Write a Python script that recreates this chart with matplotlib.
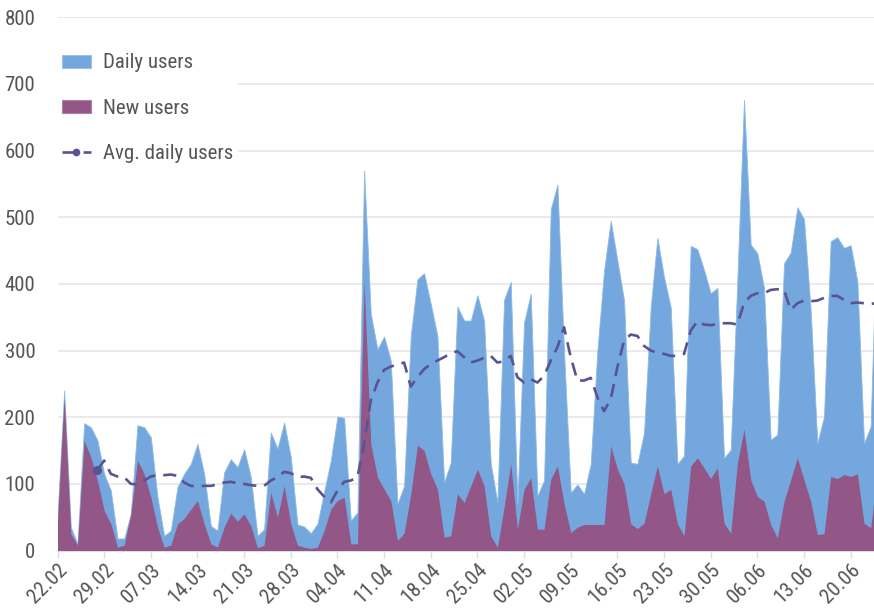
import matplotlib
matplotlib.use('Agg')
import matplotlib.pyplot as plt
import matplotlib.dates as mdates
from matplotlib import font_manager
from matplotlib.patches import Patch
from matplotlib.lines import Line2D
import numpy as np
import pandas as pd

# daily values, starting 22.02
daily_users = [50, 240, 35, 10, 191, 185, 165, 115, 90, 18,
               18, 55, 188, 185, 170, 80, 22, 30, 95, 115,
               130, 160, 115, 37, 30, 117, 137, 125, 152, 110,
               22, 32, 177, 153, 192, 140, 39, 36, 26, 40,
               88, 135, 201, 199, 45, 57, 570, 355, 302, 321,
               285, 70, 97, 322, 407, 416, 370, 322, 102, 132,
               366, 345, 345, 383, 345, 130, 72, 376, 403, 70,
               342, 385, 82, 105, 512, 549, 297, 87, 99, 85,
               130, 300, 420, 495, 435, 375, 132, 130, 177, 365,
               469, 410, 365, 130, 142, 457, 452, 421, 386, 394,
               139, 151, 406, 676, 459, 446, 394, 166, 174, 431,
               447, 515, 497, 360, 161, 201, 464, 470, 454, 458,
               404, 161, 186, 520]
new_users = [45, 230, 25, 8, 165, 140, 105, 60, 40, 5,
             8, 55, 135, 115, 80, 35, 5, 8, 40, 48,
             62, 75, 40, 10, 5, 35, 56, 44, 55, 37,
             4, 8, 87, 50, 97, 40, 8, 5, 3, 5,
             30, 62, 75, 80, 10, 10, 403, 160, 110, 92,
             75, 15, 26, 85, 158, 150, 115, 92, 20, 22,
             85, 72, 97, 122, 97, 22, 5, 65, 130, 32,
             92, 109, 32, 32, 107, 127, 70, 27, 35, 39,
             39, 39, 39, 157, 122, 100, 40, 33, 41, 85,
             127, 85, 92, 40, 22, 127, 139, 124, 108, 124,
             41, 26, 131, 182, 106, 81, 74, 39, 19, 74,
             106, 139, 106, 74, 24, 25, 111, 108, 114, 111,
             115, 41, 34, 118]
# weekly average starts on 28.02
avg_start = 6
avg_users = [121, 135, 115, 111, 110, 100, 99, 105, 111, 113,
             113, 114, 112, 102, 97, 96, 97, 97, 99, 102,
             103, 101, 100, 98, 97, 97, 105, 110, 118, 116,
             110, 111, 109, 92, 81, 72, 90, 103, 105, 110,
             160, 225, 252, 271, 276, 279, 282, 246, 260, 272,
             280, 285, 290, 296, 299, 290, 282, 285, 289, 292,
             282, 284, 292, 260, 252, 257, 252, 262, 285, 305,
             335, 290, 255, 255, 259, 230, 209, 227, 275, 315,
             324, 322, 307, 300, 297, 295, 292, 292, 295, 330,
             344, 339, 338, 340, 341, 341, 339, 371, 382, 386,
             386, 391, 392, 391, 361, 371, 375, 374, 375, 379,
             382, 382, 376, 371, 372, 371, 370, 371]

dates = pd.date_range('2016-02-22', periods=len(daily_users), freq='D')
avg_dates = dates[avg_start:avg_start + len(avg_users)]

blue = '#74a7dd'
purple = '#925787'
line_col = '#5a5391'
text_col = '#555555'

avail = {f.name for f in font_manager.fontManager.ttflist}
fams = [f for f in ['Liberation Sans Narrow', 'Roboto Condensed', 'Roboto'] if f in avail]
plt.rcParams['font.family'] = fams + ['DejaVu Sans']

fig = plt.figure(figsize=(8.74, 6.10), dpi=100)
ax = fig.add_axes([57.5 / 874, 59.5 / 610, 816.5 / 874, 533.2 / 610])

ax.fill_between(dates, daily_users, color=blue, lw=0.6, edgecolor='#8fbae6', zorder=2)
ax.fill_between(dates, new_users, color=purple, lw=0, zorder=3)
ax.plot(avg_dates, avg_users, color=line_col, lw=1.9, linestyle=(0, (5, 3)),
        marker='o', markersize=5.5, markevery=[0], zorder=4)

ax.set_ylim(0, 800)
ax.set_xlim(dates[0], dates[0] + pd.Timedelta(days=122.5))
ax.set_yticks(np.arange(0, 801, 100))
ax.grid(axis='y', color='#e4e4e4', lw=1.1, zorder=0)
ax.set_axisbelow(True)
for s in ax.spines.values():
    s.set_visible(False)

ax.set_xticks(dates[::7])
ax.xaxis.set_major_formatter(mdates.DateFormatter('%d.%m'))
ax.tick_params(axis='x', length=5, width=1, color='#dddddd', labelsize=15,
               labelcolor=text_col, pad=2)
ax.tick_params(axis='y', length=0, labelsize=15, labelcolor=text_col, pad=16)
for lab in ax.get_xticklabels():
    lab.set_rotation(45)
    lab.set_ha('right')
    lab.set_va('top')
    lab.set_rotation_mode('anchor')

handles = [Patch(facecolor=blue, edgecolor='#9cc2ea', lw=0.8),
           Patch(facecolor=purple, edgecolor='#b07fa6', lw=0.8),
           Line2D([], [], color=line_col, lw=1.9, linestyle=(0, (5, 3)),
                  marker='o', markersize=4.5)]
leg = ax.legend(handles, ['Daily users', 'New users', 'Avg. daily users'],
                loc='upper left', bbox_to_anchor=(0.0, 0.94), borderaxespad=0,
                fontsize=15, frameon=True, facecolor='white', edgecolor='none',
                framealpha=1, fancybox=False, borderpad=0.2, handlelength=1.4,
                handleheight=0.6, handletextpad=0.6, labelspacing=1.27)
for t in leg.get_texts():
    t.set_color(text_col)
leg.set_zorder(5)

fig.savefig('out.png', dpi=100)
